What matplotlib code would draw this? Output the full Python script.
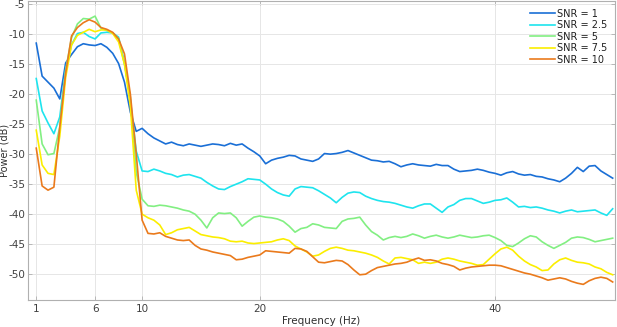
import numpy as np
import matplotlib.pyplot as plt

plt.rcParams['axes.unicode_minus'] = False

# frequency grid (Hz), 0.5 Hz steps
freq = np.arange(1, 50.01, 0.5)

snr_labels = ['SNR = 1', 'SNR = 2.5', 'SNR = 5', 'SNR = 7.5', 'SNR = 10']

snr_1 = [
    -11.5, -17.0, -18.0, -19.0, -20.8, -14.8, -13.4, -12.1, -11.6, -11.8,
    -11.9, -11.6, -12.2, -13.2, -14.9, -18.0, -23.0, -26.2, -25.7, -26.6,
    -27.3, -27.8, -28.3, -28.0, -28.4, -28.6, -28.3, -28.5, -28.7, -28.5,
    -28.3, -28.4, -28.6, -28.2, -28.5, -28.3, -29.0, -29.6, -30.3, -31.6,
    -31.0, -30.7, -30.5, -30.2, -30.3, -30.8, -31.0, -31.2, -30.8, -29.9,
    -30.0, -29.9, -29.7, -29.4, -29.8, -30.2, -30.6, -31.0, -31.1, -31.3,
    -31.2, -31.6, -32.1, -31.8, -31.6, -31.8, -31.9, -32.0, -31.7, -31.9,
    -31.9, -32.5, -32.9, -32.8, -32.7, -32.5, -32.7, -33.0, -33.2, -33.5,
    -33.1, -32.9, -33.3, -33.5, -33.4, -33.7, -33.8, -34.1, -34.3, -34.6,
    -34.0, -33.2, -32.2, -32.9, -32.0, -31.9, -32.8, -33.4, -34.0,
]

snr_2_5 = [
    -17.4, -22.8, -24.8, -26.6, -23.8, -16.0, -11.8, -9.9, -9.7, -10.4,
    -10.8, -9.8, -9.7, -9.8, -10.5, -14.8, -21.0, -29.5, -32.8, -32.9,
    -32.5, -32.8, -33.2, -33.4, -33.8, -33.5, -33.4, -33.7, -34.0, -34.7,
    -35.3, -35.8, -35.9, -35.4, -35.0, -34.6, -34.1, -34.2, -34.3, -35.0,
    -35.8, -36.4, -36.8, -37.0, -35.8, -35.4, -35.5, -35.6, -36.1, -36.7,
    -37.3, -38.1, -37.2, -36.5, -36.3, -36.4, -37.0, -37.4, -37.7, -37.9,
    -38.0, -38.2, -38.5, -38.8, -39.0, -38.6, -38.3, -38.3, -39.0, -39.7,
    -38.8, -38.4, -37.7, -37.4, -37.4, -37.8, -38.2, -38.0, -37.7, -37.6,
    -37.3, -38.0, -38.8, -38.7, -38.9, -38.8, -39.0, -39.3, -39.5, -39.8,
    -39.5, -39.3, -39.6, -39.5, -39.4, -39.3, -39.8, -40.2, -39.1,
]

snr_5 = [
    -21.0, -28.3, -30.1, -29.9, -25.5, -16.0, -10.6, -8.3, -7.4, -7.5,
    -7.0, -9.0, -9.4, -9.8, -10.8, -15.0, -20.5, -33.0, -37.5, -38.6,
    -38.7, -38.5, -38.6, -38.8, -39.0, -39.3, -39.5, -40.0, -41.0, -42.3,
    -40.6, -39.8, -39.9, -39.8, -40.6, -42.0, -41.2, -40.5, -40.3, -40.5,
    -40.6, -40.8, -41.2, -42.0, -43.0, -42.4, -42.2, -41.6, -41.8, -42.2,
    -42.3, -42.4, -41.2, -40.8, -40.7, -40.5, -41.8, -42.9, -43.5, -44.3,
    -43.9, -43.7, -43.9, -43.7, -43.3, -43.6, -44.0, -43.7, -43.5, -43.8,
    -44.0, -43.8, -43.5, -43.7, -43.9, -43.8, -43.6, -43.5, -43.9, -44.4,
    -45.2, -45.4, -44.8, -44.1, -43.6, -43.8, -44.6, -45.2, -45.7, -45.2,
    -44.7, -44.0, -43.8, -43.9, -44.2, -44.6, -44.4, -44.2, -44.0,
]

snr_7_5 = [
    -26.0, -31.8, -33.2, -33.4, -27.0, -17.2, -11.8, -10.2, -9.7, -9.2,
    -9.6, -9.3, -9.3, -9.9, -11.3, -15.0, -22.0, -36.0, -40.0, -40.6,
    -41.0, -41.8, -43.4, -43.1, -42.6, -42.4, -42.2, -42.8, -43.4, -43.6,
    -43.8, -43.9, -44.1, -44.5, -44.6, -44.5, -44.8, -44.9, -44.8, -44.7,
    -44.6, -44.3, -44.1, -44.4, -45.3, -45.8, -46.3, -47.0, -46.8, -46.2,
    -45.7, -45.5, -45.7, -46.0, -46.1, -46.3, -46.5, -46.8, -47.2, -47.8,
    -48.3, -47.3, -47.2, -47.4, -47.6, -48.2, -48.0, -48.2, -48.0, -47.5,
    -47.3, -47.5, -47.8, -48.0, -48.2, -48.5, -48.4, -47.5, -46.6, -45.8,
    -45.5, -46.0, -47.0, -47.8, -48.4, -48.8, -49.4, -49.3, -48.3, -47.6,
    -47.3, -47.7, -48.0, -48.1, -48.3, -48.8, -49.1, -49.7, -50.1,
]

snr_10 = [
    -29.0, -35.3, -36.0, -35.5, -25.5, -16.5, -10.3, -8.9, -8.1, -7.6,
    -8.0, -8.9, -9.2, -9.7, -10.8, -13.3, -20.0, -30.0, -41.0, -43.2,
    -43.3, -43.1, -43.7, -44.0, -44.3, -44.4, -44.3, -45.2, -45.8, -46.0,
    -46.3, -46.5, -46.7, -46.9, -47.6, -47.5, -47.2, -47.0, -46.8, -46.1,
    -46.2, -46.3, -46.4, -46.5, -45.7, -45.8, -46.2, -47.1, -48.0, -48.1,
    -47.9, -47.7, -47.8, -48.4, -49.3, -50.1, -50.0, -49.4, -48.9, -48.7,
    -48.5, -48.3, -48.2, -48.0, -47.6, -47.3, -47.7, -47.6, -47.8, -48.2,
    -48.4, -48.7, -49.3, -49.0, -48.8, -48.7, -48.6, -48.5, -48.5, -48.6,
    -48.9, -49.2, -49.5, -49.8, -50.0, -50.3, -50.6, -51.0, -50.8, -50.6,
    -50.8, -51.2, -51.5, -51.7, -51.1, -50.7, -50.5, -50.7, -51.3,
]

colors = ['#1a6fd6', '#1ee4ee', '#82ef82', '#fbee00', '#ea7a1c']

xticks = [1, 6, 10, 20, 40]
yticks = np.arange(-50, -4, 5)

fig = plt.figure(figsize=(6.17, 3.27), dpi=100)
ax = fig.add_axes([0.0454, 0.0826, 0.9514, 0.914])

for vals, col, lab in zip([snr_1, snr_2_5, snr_5, snr_7_5, snr_10], colors, snr_labels):
    ax.plot(freq, vals, color=col, lw=1.2, label=lab)

ax.set_xlim(0.3, 50.2)
ax.set_ylim(-54.3, -4.5)
ax.set_xticks(xticks)
ax.set_yticks(yticks)
ax.grid(True, color='#e6e6e6', lw=0.7)
ax.set_axisbelow(True)

for s in ax.spines.values():
    s.set_color('#b0b0b0')
    s.set_linewidth(0.8)
ax.tick_params(direction='in', length=3, width=0.6, colors='#b0b0b0',
               labelcolor='#404040', labelsize=7.5, top=True, right=True, pad=3)
ax.tick_params(axis='y', pad=2, labelsize=7.5)

ax.set_xlabel('Frequency (Hz)', fontsize=7.5, color='#303030', labelpad=1)
ax.set_ylabel('Power (dB)', fontsize=7, color='#303030', va='center')
ax.yaxis.set_label_coords(-0.040, 0.5)

leg = ax.legend(loc='upper right', fontsize=7, frameon=False, handlelength=2.6,
                handletextpad=0.2, labelspacing=0.15, borderaxespad=0.4)
for t in leg.get_texts():
    t.set_color('#202020')

fig.savefig('out.png', dpi=100)
